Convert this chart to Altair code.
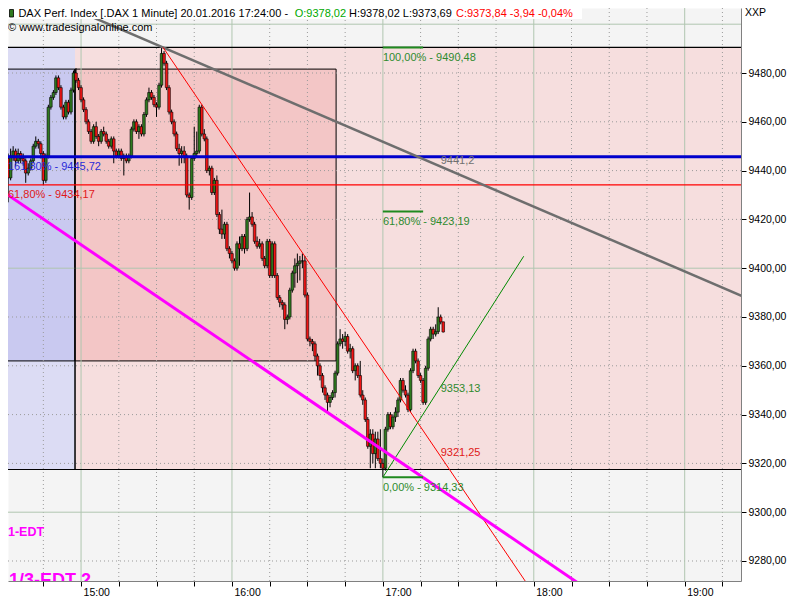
import altair as alt
import pandas as pd

FONT = "Liberation Sans"
W, H = 733, 573

# ---------------- data ----------------
# minutes relative to 15:00 (1-minute candles 14:31 ... 17:24)
minutes = list(range(-29, 145))
opens = [
    9445, 9437, 9446, 9448, 9444, 9447, 9445, 9444, 9439, 9441,
    9444, 9450, 9452, 9451, 9447, 9436, 9446, 9466, 9470, 9472,
    9478, 9474, 9466, 9462, 9468, 9464, 9473, 9480, 9477, 9474,
    9469, 9465, 9460, 9456, 9452, 9458, 9454, 9452, 9456, 9455,
    9452, 9450, 9453, 9448, 9446, 9448, 9445, 9446, 9444, 9446,
    9457, 9460, 9456, 9458, 9455, 9463, 9469, 9472, 9470, 9467,
    9466, 9475, 9488, 9484, 9474, 9464, 9460, 9455, 9449, 9447,
    9448, 9446, 9430, 9429, 9445, 9447, 9448, 9466, 9455, 9453,
    9440, 9441, 9431, 9436, 9422, 9416, 9414, 9418, 9408, 9406,
    9403, 9400, 9410, 9408, 9413, 9408, 9420, 9421, 9418, 9411,
    9409, 9410, 9404, 9401, 9411, 9397, 9410, 9397, 9388, 9386,
    9385, 9379, 9380, 9391, 9398, 9401, 9402, 9403, 9403, 9389,
    9371, 9370, 9369, 9364, 9360, 9356, 9351, 9348, 9345, 9347,
    9349, 9357, 9369, 9371, 9370, 9372, 9366, 9367, 9358, 9360,
    9356, 9348, 9346, 9338, 9327, 9332, 9324, 9330, 9322, 9320,
    9318, 9334, 9340, 9335, 9339, 9341, 9346, 9354, 9350, 9348,
    9342, 9358, 9366, 9362, 9356, 9354, 9345, 9359, 9371, 9375,
    9373, 9374, 9380, 9378.02,
]
highs = [
    9447, 9449, 9450, 9449, 9449, 9448, 9447, 9445, 9443, 9445,
    9451, 9454, 9453, 9452, 9448, 9447, 9467, 9471, 9473, 9479,
    9479, 9475, 9467, 9469, 9469, 9474, 9481, 9482, 9478, 9475,
    9470, 9466, 9461, 9457, 9459, 9460, 9455, 9457, 9458, 9456,
    9453, 9454, 9454, 9449, 9449, 9449, 9447, 9447, 9447, 9458,
    9461, 9461, 9459, 9459, 9464, 9470, 9474, 9473, 9471, 9468,
    9476, 9490.48, 9489, 9485, 9475, 9465, 9461, 9456, 9451, 9450,
    9450, 9447, 9431, 9446, 9458, 9456, 9467, 9467, 9457, 9454,
    9442, 9442, 9437, 9438, 9423, 9424, 9419, 9419, 9409, 9407,
    9404, 9411, 9413, 9414, 9414, 9421, 9431, 9423, 9419, 9413,
    9412, 9411, 9405, 9412, 9412, 9411, 9411, 9398, 9389, 9387,
    9386, 9381, 9392, 9399, 9404, 9406, 9405, 9406, 9405, 9390,
    9372, 9371, 9370, 9365, 9361, 9357, 9352, 9349, 9348, 9350,
    9358, 9370, 9375, 9373, 9374, 9373, 9369, 9368, 9361, 9361,
    9362, 9350, 9347, 9339, 9334, 9334, 9333, 9333, 9334, 9322,
    9335, 9341, 9341, 9340, 9343, 9347, 9355, 9355, 9352, 9349,
    9359, 9367, 9367, 9363, 9357, 9355, 9360, 9372, 9376, 9376,
    9377, 9384, 9381, 9378.02,
]
lows = [
    9427, 9436, 9444, 9442, 9443, 9443, 9442, 9435, 9438, 9440,
    9443, 9449, 9449, 9445, 9434, 9435, 9445, 9465, 9469, 9471,
    9473, 9465, 9461, 9461, 9463, 9463, 9472, 9476, 9473, 9468,
    9464, 9459, 9455, 9451, 9451, 9453, 9450, 9451, 9454, 9451,
    9449, 9449, 9443, 9445, 9445, 9444, 9438, 9443, 9443, 9445,
    9456, 9455, 9453, 9454, 9454, 9462, 9468, 9469, 9466, 9462,
    9465, 9474, 9483, 9473, 9463, 9459, 9454, 9448, 9442, 9443,
    9443, 9429, 9424, 9428, 9444, 9446, 9447, 9454, 9452, 9439,
    9438, 9430, 9430, 9421, 9414, 9412, 9412, 9407, 9404, 9402,
    9399, 9399, 9401, 9407, 9406, 9407, 9419, 9417, 9410, 9408,
    9408, 9403, 9400, 9400, 9396, 9396, 9396, 9387, 9384, 9383,
    9375, 9377, 9379, 9390, 9392, 9394, 9395, 9400, 9388, 9370,
    9368, 9366, 9362, 9356, 9354, 9349, 9346, 9341, 9343, 9346,
    9347, 9356, 9368, 9367, 9368, 9365, 9363, 9357, 9354, 9355,
    9347, 9344, 9337, 9326, 9318, 9320, 9318, 9321, 9318, 9314.33,
    9317, 9333, 9334, 9334, 9337, 9339, 9345, 9349, 9347, 9341,
    9341, 9357, 9361, 9355, 9353, 9344, 9344, 9358, 9370, 9371,
    9372, 9373, 9377, 9373.69,
]
closes = [
    9437, 9446, 9448, 9444, 9447, 9445, 9444, 9439, 9441, 9444,
    9450, 9452, 9451, 9447, 9436, 9446, 9466, 9470, 9472, 9478,
    9474, 9466, 9462, 9468, 9464, 9473, 9480, 9477, 9474, 9469,
    9465, 9460, 9456, 9452, 9458, 9454, 9452, 9456, 9455, 9452,
    9450, 9453, 9448, 9446, 9448, 9445, 9446, 9444, 9446, 9457,
    9460, 9456, 9458, 9455, 9463, 9469, 9472, 9470, 9467, 9466,
    9475, 9488, 9484, 9474, 9464, 9460, 9455, 9449, 9447, 9448,
    9446, 9430, 9429, 9445, 9447, 9448, 9466, 9455, 9453, 9440,
    9441, 9431, 9436, 9422, 9416, 9414, 9418, 9408, 9406, 9403,
    9400, 9410, 9408, 9413, 9408, 9420, 9421, 9418, 9411, 9409,
    9410, 9404, 9401, 9411, 9397, 9410, 9397, 9388, 9386, 9385,
    9379, 9380, 9391, 9398, 9401, 9402, 9403, 9403, 9389, 9371,
    9370, 9369, 9364, 9360, 9356, 9351, 9348, 9345, 9347, 9349,
    9357, 9369, 9371, 9370, 9372, 9366, 9367, 9358, 9360, 9356,
    9348, 9346, 9338, 9327, 9332, 9324, 9330, 9322, 9320, 9318,
    9334, 9340, 9335, 9339, 9341, 9346, 9354, 9350, 9348, 9342,
    9358, 9366, 9362, 9356, 9354, 9345, 9359, 9371, 9375, 9373,
    9374, 9380, 9378, 9373.84,
]

# axis ticks
x_tick_minutes = list(range(-15, 256, 15))
y_tick_values = list(range(9280, 9481, 20))
grid_prices = list(range(9280, 9501, 20))

# shaded zones (Fibonacci boxes)
zone_x1 = [-40, -2.4]
zone_x2 = [-2.4, 300]
zone_fill_outer = ["#dcdcf4", "#f6dede"]
zone_fill_inner = ["#c9c9f0", "#f3c6c6"]
outer_top, outer_bottom = 9490.48, 9317.5
inner_top, inner_bottom, inner_right = 9481.6, 9362.0, 101.4

# trend lines (anchor points)
trend_x1 = [-40, 32.6, 120.0, -40]
trend_y1 = [9522.6, 9490.48, 9314.33, 9437.7]
trend_x2 = [280, 180, 176, 200]
trend_y2 = [9381.0, 9266.6, 9404.9, 9269.3]
trend_color = ["#6e6e6e", "#ff0000", "#008a00", "#ff00ff"]
trend_width = [2.5, 1, 1, 3]

# horizontal levels
level_values = [9445.72, 9434.17]
level_labels = ["161,80% - 9445,72", "61,80% - 9434,17"]
level_colors = ["#0000cc", "#ff0000"]
level_text_colors = ["#2a2ad8", "#e01818"]
level_widths = [3, 1.2]

fib_values = [9490.48, 9423.19, 9314.33]
fib_labels = ["100,00% - 9490,48", "61,80% - 9423,19", "0,00% - 9314,33"]
fib_start, fib_end = 120.0, 136.0

value_labels = ["9441,2", "9353,13", "9321,25"]
value_prices = [9441.2, 9353.13, 9321.25]
value_colors = ["#707070", "#2e8b2e", "#e01818"]
value_dy = [-7, 6.5, -7]
value_minute = 143.0

header_parts = ["DAX Perf. Index [.DAX  1 Minute] 20.01.2016 17:24:00 -",
                "O:9378,02", "H:9378,02 L:9373,69", "C:9373,84 -3,94 -0,04%"]
header_colors = ["#000000", "#00a800", "#000000", "#ff0000"]
header_px = [10.4, 286.7, 341.0, 448.0]

# ---------------- scales & axes ----------------
xs = alt.Scale(domain=[-27.06, 260.4], nice=False, zero=False)
ys = alt.Scale(domain=[9271.8, 9506.64], nice=False, zero=False)

x_axis = alt.Axis(values=x_tick_minutes,
                  labelExpr="datum.value % 60 === 0 ? (15 + datum.value / 60) + ':00' : ''",
                  grid=False, tickSize=5, tickColor="#000000", domainColor="#808080",
                  labelAlign="left", labelBaseline="top", labelPadding=1, labelOffset=2,
                  labelFont=FONT, labelFontSize=10.5, labelColor="#000000", title=None,
                  labelFlush=False, labelOverlap=False, zindex=1)
y_axis = alt.Axis(orient="right", values=y_tick_values,
                  labelExpr="replace(format(datum.value, '.2f'), '.', ',')",
                  grid=False, tickSize=5, tickColor="#000000", domainColor="#808080",
                  labelPadding=2, labelFont=FONT, labelFontSize=10.5, labelColor="#000000",
                  title=None, labelOverlap=False, zindex=1)


def X(f):
    return alt.X(f, scale=xs, axis=x_axis)


def Y(f):
    return alt.Y(f, scale=ys, axis=y_axis)


one = pd.DataFrame({"a": [0]})
candles = pd.DataFrame({"m": minutes, "o": opens, "h": highs, "l": lows, "c": closes})

layers = []

# zones
outer = pd.DataFrame({"x1": zone_x1, "x2": zone_x2, "y1": [outer_bottom] * 2,
                      "y2": [outer_top] * 2, "fill": zone_fill_outer})
layers.append(alt.Chart(outer).mark_rect(clip=True).encode(
    x=X("x1:Q"), x2="x2:Q", y=Y("y1:Q"), y2="y2:Q",
    color=alt.Color("fill:N", scale=None)))
inner = pd.DataFrame({"x1": [-40, -2.4], "x2": [-2.4, inner_right],
                      "y1": [inner_bottom] * 2, "y2": [inner_top] * 2,
                      "fill": zone_fill_inner})
layers.append(alt.Chart(inner).mark_rect(clip=True, stroke="#000000", strokeWidth=1).encode(
    x=X("x1:Q"), x2="x2:Q", y=Y("y1:Q"), y2="y2:Q",
    color=alt.Color("fill:N", scale=None)))

# grid
vg = pd.DataFrame({"m": x_tick_minutes})
hg = pd.DataFrame({"p": grid_prices})
layers.append(alt.Chart(vg).transform_filter("datum.m % 60 !== 0").mark_rule(
    clip=True, color="#9a9a9a", strokeDash=[1, 3], strokeWidth=1).encode(x=X("m:Q")))
layers.append(alt.Chart(hg).transform_filter("datum.p % 100 !== 0").mark_rule(
    clip=True, color="#9a9a9a", strokeDash=[1, 3], strokeWidth=1).encode(y=Y("p:Q")))
layers.append(alt.Chart(vg).transform_filter("datum.m % 60 === 0").mark_rule(
    clip=True, color="#b0c6b0", strokeWidth=1).encode(x=X("m:Q")))
layers.append(alt.Chart(hg).transform_filter("datum.p % 100 === 0").mark_rule(
    clip=True, color="#b0c6b0", strokeWidth=1).encode(y=Y("p:Q")))

# box lines
layers.append(alt.Chart(pd.DataFrame({"p": [outer_top, outer_bottom]})).mark_rule(
    clip=True, color="#000000", strokeWidth=1.2).encode(y=Y("p:Q")))
layers.append(alt.Chart(pd.DataFrame({"m": [-2.4], "y1": [outer_bottom], "y2": [inner_top]})).mark_rule(
    clip=True, color="#000000", strokeWidth=1.5).encode(x=X("m:Q"), y=Y("y1:Q"), y2="y2:Q"))

# candles
layers.append(alt.Chart(candles).mark_rule(clip=True, color="#000000", strokeWidth=1).encode(
    x=X("m:Q"), y=Y("l:Q"), y2="h:Q"))
layers.append(alt.Chart(candles).mark_bar(clip=True, size=2.6, stroke="#000000", strokeWidth=0.6).encode(
    x=X("m:Q"), y=Y("o:Q"), y2="c:Q",
    color=alt.condition("datum.c >= datum.o", alt.value("#2f7a1f"), alt.value("#f01515"))))

# horizontal levels
for i in range(len(level_values)):
    layers.append(alt.Chart(pd.DataFrame({"p": [level_values[i]]})).mark_rule(
        clip=True, color=level_colors[i], strokeWidth=level_widths[i]).encode(y=Y("p:Q")))

# trend lines
for i in range(len(trend_x1)):
    d = pd.DataFrame({"x1": [trend_x1[i]], "y1": [trend_y1[i]], "x2": [trend_x2[i]], "y2": [trend_y2[i]]})
    layers.append(alt.Chart(d).mark_rule(clip=True, color=trend_color[i], strokeWidth=trend_width[i]).encode(
        x=X("x1:Q"), y=Y("y1:Q"), x2="x2:Q", y2="y2:Q"))

# fib short lines
fib = pd.DataFrame({"p": fib_values, "t": fib_labels, "x1": [fib_start] * 3, "x2": [fib_end] * 3})
layers.append(alt.Chart(fib).mark_rule(clip=True, color="#1f8a1f", strokeWidth=2).encode(
    x=X("x1:Q"), x2="x2:Q", y=Y("p:Q")))
layers.append(alt.Chart(fib).mark_text(align="left", baseline="middle", dy=10.5, font=FONT,
                                       fontSize=11, color="#2e8b2e").encode(
    x=X("x1:Q"), y=Y("p:Q"), text="t:N"))

# level labels
for i in range(len(level_values)):
    d = pd.DataFrame({"p": [level_values[i]], "t": [level_labels[i]]})
    layers.append(alt.Chart(d).mark_text(align="left", baseline="middle", dy=10, font=FONT,
                                         fontSize=11, color=level_text_colors[i]).encode(
        x=alt.value(0), y=Y("p:Q"), text="t:N"))

# value labels at last bar
for i in range(len(value_labels)):
    d = pd.DataFrame({"m": [value_minute], "p": [value_prices[i]], "t": [value_labels[i]]})
    layers.append(alt.Chart(d).mark_text(align="left", baseline="middle", dy=value_dy[i], font=FONT,
                                         fontSize=11, color=value_colors[i]).encode(
        x=X("m:Q"), y=Y("p:Q"), text="t:N"))

# EDT labels
layers.append(alt.Chart(one).mark_text(text="1-EDT", align="left", baseline="middle", font=FONT,
                                       fontSize=12.5, fontWeight="bold", color="#ff00ff").encode(
    x=alt.value(0), y=alt.value(524)))
layers.append(alt.Chart(one).mark_text(text="1/3-EDT 2", align="left", baseline="alphabetic", font=FONT,
                                       fontSize=18, fontWeight="bold", color="#ff00ff", clip=True).encode(
    x=alt.value(1), y=alt.value(578)))

# header
layers.append(alt.Chart(one).mark_rect(color="#ffffff").encode(
    x=alt.value(0), x2=alt.value(574), y=alt.value(0), y2=alt.value(11)))
layers.append(alt.Chart(one).mark_rect(color="#2f7a1f", stroke="#000000", strokeWidth=0.8).encode(
    x=alt.value(1.5), x2=alt.value(5.5), y=alt.value(1.5), y2=alt.value(9)))
for i in range(len(header_parts)):
    layers.append(alt.Chart(one).mark_text(text=header_parts[i], align="left", baseline="middle",
                                           font=FONT, fontSize=11, color=header_colors[i]).encode(
        x=alt.value(header_px[i]), y=alt.value(5.5)))
layers.append(alt.Chart(one).mark_text(text="\u00a9 www.tradesignalonline.com", align="left",
                                       baseline="middle", font=FONT, fontSize=11, color="#000000").encode(
    x=alt.value(0), y=alt.value(19.5)))
layers.append(alt.Chart(one).mark_text(text="XXP", align="left", baseline="middle",
                                       font=FONT, fontSize=10.5, color="#000000").encode(
    x=alt.value(737), y=alt.value(5)))

chart = alt.layer(*layers).properties(
    width=W, height=H,
    autosize=alt.AutoSizeParams(type="none"),
    padding={"left": 0, "top": 0, "right": 51, "bottom": 19},
    background="#ffffff",
).configure_view(fill="#f4f4f4", stroke="transparent")

chart.save("out.html", embed_options={"renderer": "svg", "actions": False})
